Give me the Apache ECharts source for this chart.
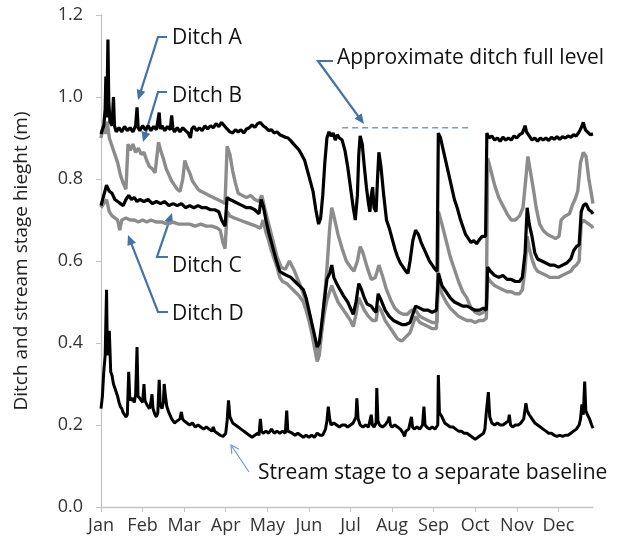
<!DOCTYPE html>
<html>
<head>
<meta charset="utf-8">
<script src="https://cdn.jsdelivr.net/npm/echarts@6/dist/echarts.min.js"></script>
<style>
  html, body { margin: 0; padding: 0; background: #fff; }
  #chart { width: 617px; height: 548px; }
</style>
</head>
<body>
<div id="chart"></div>
<script>
// x = day of year on an even month grid (30 units per month), y = stage (m)
const months = ['Jan', 'Feb', 'Mar', 'Apr', 'May', 'Jun', 'Jul', 'Aug', 'Sep', 'Oct', 'Nov', 'Dec'];
const yTicks = [0, 0.2, 0.4, 0.6, 0.8, 1.0, 1.2];

const ditchA = [
  [0, 0.91], [1, 0.92], [2, 0.93], [3, 0.97], [3.5, 1.05], [4.2, 0.95], [5, 1.14], [5.6, 0.99], [6.5, 0.94],
  [8, 0.93], [9, 1.0], [9.7, 0.93], [11, 0.915], [13, 0.925], [15, 0.915], [17, 0.928], [19, 0.918],
  [21, 0.925], [23, 0.915], [25, 0.93], [26, 0.975], [26.8, 0.925], [28, 0.918], [30, 0.93], [32, 0.92],
  [34, 0.93], [36, 0.918], [38, 0.928], [40, 0.92], [42, 0.962], [42.8, 0.922], [44, 0.93], [46, 0.918],
  [48, 0.928], [50, 0.92], [51, 0.955], [51.8, 0.925], [53, 0.915], [55, 0.925], [57, 0.915], [59, 0.925],
  [61, 0.918], [63, 0.912], [64.5, 0.9], [65.5, 0.922], [67, 0.928], [69, 0.918], [71, 0.925], [73, 0.918],
  [75, 0.93], [77, 0.922], [79, 0.93], [81, 0.925], [83, 0.935], [85, 0.928], [87, 0.938], [89, 0.93],
  [91, 0.922], [93, 0.915], [95, 0.912], [97, 0.92], [99, 0.915], [101, 0.92], [103, 0.912], [105, 0.922],
  [107, 0.925], [109, 0.932], [111, 0.926], [113, 0.935], [115, 0.938], [117, 0.93], [119, 0.925],
  [121, 0.918], [123, 0.92], [125, 0.912], [127, 0.915], [129, 0.908], [131, 0.905], [133, 0.902],
  [135, 0.9], [137, 0.893], [139, 0.885], [141, 0.878], [143, 0.87], [145, 0.858], [147, 0.845],
  [149, 0.82], [151, 0.795], [153, 0.77], [155, 0.725], [157, 0.69], [158.5, 0.705], [160, 0.76],
  [161.5, 0.84], [163, 0.9], [164.5, 0.915], [166, 0.905], [167.5, 0.912], [169, 0.895], [170.5, 0.908],
  [172, 0.9], [174, 0.895], [176, 0.87], [178, 0.83], [180, 0.78], [182, 0.73], [183.5, 0.7],
  [185, 0.76], [186, 0.86], [187, 0.905], [188.5, 0.885], [190, 0.83], [191.5, 0.78], [193, 0.74],
  [194, 0.72], [195, 0.76], [196, 0.78], [197, 0.73], [198.5, 0.72], [199.5, 0.8], [200.5, 0.865],
  [202, 0.83], [204, 0.76], [206, 0.7], [208, 0.68], [210, 0.655], [212, 0.63], [214, 0.61],
  [216, 0.595], [218, 0.585], [220, 0.575], [221.5, 0.57], [223, 0.6], [225, 0.65], [227, 0.675],
  [229, 0.665], [231, 0.645], [233, 0.63], [235, 0.615], [237, 0.6], [239, 0.59], [241, 0.58],
  [242.5, 0.575], [243.4, 0.912], [245, 0.9], [247, 0.87], [249, 0.84], [251, 0.81], [253, 0.78],
  [255, 0.75], [257, 0.73], [259, 0.705], [261, 0.685], [263, 0.665], [265, 0.655], [267, 0.645],
  [269, 0.65], [271, 0.642], [273, 0.652], [275, 0.66], [277.5, 0.66], [278.4, 0.912], [280, 0.9],
  [282, 0.905], [284, 0.895], [286, 0.9], [288, 0.892], [290, 0.902], [292, 0.895], [294, 0.9],
  [296, 0.895], [298, 0.905], [300, 0.9], [302, 0.908], [304, 0.912], [306, 0.93], [307, 0.915],
  [309, 0.905], [311, 0.895], [313, 0.9], [315, 0.892], [317, 0.9], [319, 0.895], [321, 0.9],
  [323, 0.894], [325, 0.902], [327, 0.897], [329, 0.903], [331, 0.897], [333, 0.903], [335, 0.9],
  [337, 0.905], [339, 0.902], [341, 0.908], [343, 0.905], [345, 0.915], [346.5, 0.925], [348, 0.938],
  [349.5, 0.92], [351, 0.915], [353, 0.908], [355, 0.91]
];

const ditchB = [
  [0, 0.9], [1.5, 0.93], [3, 0.91], [4.5, 0.94], [6, 0.9], [8, 0.88], [10, 0.86], [12, 0.84],
  [14, 0.81], [16, 0.79], [18, 0.775], [19.5, 0.885], [21, 0.87], [23, 0.885], [25, 0.865],
  [27, 0.875], [29, 0.86], [31, 0.865], [33, 0.845], [35, 0.83], [37, 0.825], [39, 0.815],
  [41.5, 0.89], [43, 0.87], [45, 0.85], [47, 0.825], [49, 0.81], [51, 0.795], [53, 0.785],
  [55, 0.775], [57, 0.77], [59, 0.8], [60.5, 0.845], [62, 0.83], [64, 0.815], [66, 0.795],
  [68, 0.785], [70, 0.775], [72, 0.77], [75, 0.765], [78, 0.76], [81, 0.755], [84, 0.75],
  [87, 0.745], [89.5, 0.74], [91, 0.88], [93, 0.86], [95, 0.82], [97, 0.79], [99, 0.765],
  [102, 0.76], [105, 0.755], [108, 0.76], [111, 0.75], [114, 0.745], [116, 0.76], [118, 0.73],
  [121, 0.69], [124, 0.65], [127, 0.61], [130, 0.585], [133, 0.58], [136, 0.6], [139, 0.58],
  [142, 0.555], [145, 0.53], [148, 0.5], [151, 0.46], [154, 0.41], [156.5, 0.36], [158.5, 0.41],
  [161, 0.5], [163, 0.58], [165, 0.68], [166.5, 0.73], [168, 0.71], [171, 0.665], [174, 0.63],
  [177, 0.6], [180, 0.585], [182.5, 0.575], [185, 0.6], [187, 0.635], [189, 0.62], [192, 0.585],
  [195, 0.555], [198, 0.56], [200.5, 0.59], [203, 0.565], [206, 0.53], [209, 0.505], [212, 0.485],
  [215, 0.475], [218, 0.47], [221, 0.47], [224, 0.48], [227, 0.48], [230, 0.465], [233, 0.46],
  [236, 0.455], [239, 0.45], [242.5, 0.45], [243.5, 0.72], [246, 0.69], [249, 0.65], [252, 0.61],
  [255, 0.58], [258, 0.55], [261, 0.525], [264, 0.51], [267, 0.485], [270, 0.475], [273, 0.47],
  [276, 0.475], [278, 0.48], [279, 0.85], [281, 0.825], [284, 0.785], [287, 0.755], [290, 0.735],
  [293, 0.715], [296, 0.7], [299, 0.7], [302, 0.71], [304.5, 0.73], [306.5, 0.8], [308, 0.855],
  [310, 0.815], [312, 0.775], [314, 0.73], [316.5, 0.69], [319, 0.675], [322, 0.665], [325, 0.66],
  [328, 0.655], [330.5, 0.66], [332, 0.7], [335, 0.71], [338, 0.715], [340, 0.735], [342, 0.75],
  [344, 0.77], [346, 0.84], [348, 0.865], [350, 0.855], [352, 0.8], [354, 0.76], [355, 0.74]
];

const ditchC = [
  [0, 0.735], [2, 0.76], [4, 0.785], [6, 0.77], [8, 0.765], [10, 0.75], [12, 0.745], [14, 0.74],
  [16, 0.735], [18, 0.75], [20, 0.76], [22, 0.75], [24, 0.755], [26, 0.745], [28, 0.75], [31, 0.745],
  [34, 0.75], [37, 0.74], [40, 0.745], [43, 0.74], [46, 0.745], [49, 0.735], [52, 0.74], [55, 0.735],
  [58, 0.74], [61, 0.73], [64, 0.735], [67, 0.73], [70, 0.735], [73, 0.73], [76, 0.73], [79, 0.725],
  [82, 0.725], [85, 0.72], [87, 0.7], [89.5, 0.685], [91, 0.755], [93, 0.75], [96, 0.745], [99, 0.74],
  [102, 0.735], [105, 0.73], [108, 0.73], [111, 0.725], [114, 0.715], [115.5, 0.75], [117, 0.735],
  [119, 0.7], [121, 0.67], [123, 0.645], [125, 0.62], [127, 0.595], [129, 0.575], [131, 0.57],
  [134, 0.565], [137, 0.56], [140, 0.55], [143, 0.54], [146, 0.53], [148, 0.51], [150, 0.48],
  [152, 0.45], [154, 0.42], [156, 0.39], [157.5, 0.4], [159, 0.44], [161, 0.5], [163, 0.555],
  [165, 0.57], [166.5, 0.59], [168, 0.56], [170, 0.545], [172.5, 0.53], [175, 0.515], [178, 0.5],
  [180, 0.485], [182, 0.47], [184, 0.5], [186, 0.545], [188, 0.53], [190, 0.51], [192, 0.495],
  [195, 0.49], [197, 0.48], [198.5, 0.475], [200, 0.52], [202, 0.505], [205, 0.48], [208, 0.465],
  [211, 0.455], [214, 0.45], [217, 0.445], [220, 0.445], [223, 0.45], [225, 0.47], [227, 0.49],
  [230, 0.485], [233, 0.48], [236, 0.48], [239, 0.475], [242, 0.48], [243.5, 0.57], [246, 0.54],
  [249, 0.525], [252, 0.51], [255, 0.5], [258, 0.495], [261, 0.49], [264, 0.49], [267, 0.485],
  [270, 0.48], [273, 0.48], [276, 0.485], [278, 0.48], [279, 0.585], [281, 0.575], [284, 0.565],
  [287, 0.56], [290, 0.565], [293, 0.555], [296, 0.555], [299, 0.55], [302, 0.55], [304, 0.56],
  [306, 0.62], [307.5, 0.73], [309, 0.69], [311, 0.66], [313, 0.62], [315, 0.605], [318, 0.6],
  [321, 0.595], [324, 0.59], [327, 0.59], [330, 0.585], [333, 0.59], [336, 0.595], [339, 0.605],
  [341, 0.625], [343, 0.635], [345, 0.64], [346.5, 0.72], [348, 0.735], [350, 0.74], [352, 0.725],
  [354, 0.72], [355, 0.715]
];

const ditchD = [
  [0, 0.73], [2, 0.74], [4, 0.75], [6, 0.72], [8, 0.71], [10, 0.705], [12, 0.7], [13.5, 0.675],
  [15, 0.7], [18, 0.705], [21, 0.7], [24, 0.7], [27, 0.695], [30, 0.7], [33, 0.695], [36, 0.7],
  [40, 0.695], [44, 0.695], [48, 0.69], [52, 0.695], [56, 0.69], [60, 0.69], [64, 0.69], [68, 0.685],
  [72, 0.69], [76, 0.685], [80, 0.685], [84, 0.68], [86, 0.675], [88, 0.645], [89.5, 0.63], [91, 0.72],
  [93, 0.71], [96, 0.705], [100, 0.7], [104, 0.695], [108, 0.69], [112, 0.685], [115, 0.68], [117, 0.7],
  [119, 0.67], [121, 0.65], [123, 0.625], [125, 0.605], [127, 0.585], [129, 0.56], [131, 0.55],
  [134, 0.545], [137, 0.535], [140, 0.525], [143, 0.515], [146, 0.5], [148, 0.48], [150, 0.455],
  [152, 0.425], [154, 0.39], [156, 0.355], [157.5, 0.37], [159, 0.42], [161, 0.47], [163, 0.505],
  [165, 0.525], [166.5, 0.54], [168, 0.525], [171, 0.5], [174, 0.485], [177, 0.47], [180, 0.455],
  [182, 0.44], [184, 0.47], [186, 0.51], [188, 0.495], [190, 0.48], [193, 0.465], [196, 0.455],
  [198.5, 0.455], [200, 0.49], [202, 0.48], [205, 0.455], [208, 0.44], [211, 0.425], [214, 0.41],
  [217, 0.405], [220, 0.415], [223, 0.425], [225, 0.445], [227, 0.465], [230, 0.45], [233, 0.445],
  [236, 0.44], [239, 0.435], [242, 0.435], [243.5, 0.55], [246, 0.52], [249, 0.5], [252, 0.485],
  [255, 0.475], [258, 0.465], [261, 0.46], [264, 0.455], [267, 0.455], [270, 0.45], [273, 0.455],
  [276, 0.455], [278, 0.46], [279, 0.56], [281, 0.55], [284, 0.54], [287, 0.535], [290, 0.53],
  [293, 0.525], [296, 0.525], [299, 0.52], [302, 0.52], [304, 0.53], [306, 0.58], [307.5, 0.66],
  [309, 0.63], [311, 0.605], [313, 0.585], [315, 0.575], [318, 0.57], [321, 0.565], [324, 0.56],
  [327, 0.56], [330, 0.56], [333, 0.565], [336, 0.57], [339, 0.575], [341, 0.585], [343, 0.59],
  [345, 0.6], [346.5, 0.69], [348, 0.7], [350, 0.695], [352, 0.69], [354, 0.685], [355, 0.68]
];

const stream = [
  [0, 0.24], [1, 0.27], [2, 0.33], [3, 0.37], [3.5, 0.45], [4, 0.53], [4.5, 0.4], [5, 0.37], [6, 0.43],
  [6.5, 0.38], [7, 0.33], [8, 0.32], [9, 0.3], [10, 0.29], [11, 0.28], [12, 0.27], [13, 0.255],
  [14, 0.245], [15, 0.24], [16, 0.23], [17, 0.225], [18, 0.22], [19, 0.225], [20, 0.33], [20.7, 0.27],
  [21.5, 0.26], [23, 0.265], [24, 0.255], [25, 0.275], [26, 0.39], [26.7, 0.27], [28, 0.265],
  [29, 0.26], [30, 0.255], [31, 0.3], [31.7, 0.26], [33, 0.25], [34, 0.245], [35, 0.24], [36, 0.255],
  [36.8, 0.275], [37.5, 0.24], [39, 0.225], [40, 0.22], [41, 0.23], [42, 0.31], [42.7, 0.25],
  [44, 0.24], [45, 0.255], [45.6, 0.3], [46.5, 0.27], [47.5, 0.245], [49, 0.23], [51, 0.215],
  [53, 0.205], [55, 0.21], [57, 0.215], [58, 0.232], [58.8, 0.215], [60, 0.21], [62, 0.205], [64, 0.2],
  [66, 0.205], [68, 0.195], [70, 0.2], [72, 0.195], [74, 0.19], [76, 0.195], [78, 0.19], [80, 0.185],
  [81, 0.195], [82, 0.185], [84, 0.18], [86, 0.175], [88, 0.172], [90, 0.18], [91, 0.21], [92, 0.26],
  [93, 0.22], [95, 0.205], [97, 0.2], [99, 0.195], [101, 0.19], [103, 0.185], [105, 0.18], [107, 0.175],
  [109, 0.17], [111, 0.175], [113, 0.18], [114, 0.175], [115, 0.215], [115.8, 0.185], [117, 0.18],
  [119, 0.185], [121, 0.18], [123, 0.19], [125, 0.18], [127, 0.185], [129, 0.18], [131, 0.185],
  [133, 0.18], [134, 0.235], [134.8, 0.185], [136, 0.185], [138, 0.18], [140, 0.175], [142, 0.18],
  [144, 0.175], [146, 0.17], [148, 0.175], [150, 0.17], [152, 0.175], [154, 0.17], [156, 0.18],
  [158, 0.175], [160, 0.175], [162, 0.19], [163, 0.21], [164, 0.245], [165, 0.215], [166, 0.2],
  [168, 0.205], [170, 0.2], [172, 0.195], [174, 0.2], [176, 0.2], [178, 0.195], [180, 0.2], [182, 0.205],
  [184, 0.22], [184.6, 0.265], [185.5, 0.215], [187, 0.2], [189, 0.195], [191, 0.2], [193, 0.195],
  [195, 0.225], [195.8, 0.2], [197, 0.195], [198.5, 0.205], [199, 0.29], [199.8, 0.21], [201, 0.2],
  [203, 0.195], [205, 0.2], [207, 0.21], [208, 0.22], [208.8, 0.2], [210, 0.195], [212, 0.2],
  [214, 0.195], [216, 0.19], [218, 0.18], [219, 0.172], [220, 0.185], [222, 0.19], [224, 0.22],
  [224.8, 0.195], [226, 0.19], [228, 0.195], [230, 0.19], [232, 0.2], [233, 0.245], [233.8, 0.2],
  [235, 0.195], [237, 0.19], [239, 0.195], [241, 0.19], [243, 0.2], [243.4, 0.322], [244.2, 0.23],
  [246, 0.22], [248, 0.205], [250, 0.2], [252, 0.195], [254, 0.195], [256, 0.19], [258, 0.185],
  [260, 0.185], [262, 0.18], [264, 0.18], [266, 0.175], [268, 0.17], [270, 0.165], [272, 0.17],
  [274, 0.175], [276, 0.18], [277, 0.19], [278, 0.23], [279.5, 0.28], [280.5, 0.22], [282, 0.205],
  [284, 0.2], [286, 0.205], [288, 0.2], [290, 0.2], [292, 0.205], [294, 0.21], [294.6, 0.225],
  [295.5, 0.2], [297, 0.195], [299, 0.2], [301, 0.2], [303, 0.205], [305, 0.215], [306.6, 0.253],
  [307.5, 0.235], [309, 0.225], [311, 0.215], [313, 0.205], [315, 0.2], [317, 0.195], [319, 0.19],
  [321, 0.185], [323, 0.18], [325, 0.18], [327, 0.175], [329, 0.172], [331, 0.175], [333, 0.172],
  [335, 0.175], [337, 0.175], [339, 0.18], [341, 0.185], [343, 0.19], [345, 0.2], [346, 0.215],
  [347, 0.25], [348, 0.225], [349, 0.306], [349.8, 0.235], [351, 0.225], [352.5, 0.215], [354, 0.2],
  [355, 0.192]
];

const fullLevel = [[174, 0.925], [267, 0.925]];

const FONT = '"Open Sans", sans-serif';
const ARROW_BLUE = '#4272a8';
const LIGHT_BLUE = '#6a9fd8';

// polyline + arrow head at the last point
function arrow(pts, color, width, head, open) {
  const n = pts.length;
  const [x1, y1] = pts[n - 2];
  const [x2, y2] = pts[n - 1];
  const a = Math.atan2(y2 - y1, x2 - x1);
  const spread = open ? 0.5 : 0.42;
  const p1 = [x2 - head * Math.cos(a - spread), y2 - head * Math.sin(a - spread)];
  const p2 = [x2 - head * Math.cos(a + spread), y2 - head * Math.sin(a + spread)];
  const els = [];
  const linePts = pts.slice();
  if (!open) {
    linePts[n - 1] = [x2 - head * 0.7 * Math.cos(a), y2 - head * 0.7 * Math.sin(a)];
  }
  els.push({ type: 'polyline', shape: { points: linePts }, style: { stroke: color, lineWidth: width, fill: null } });
  if (open) {
    els.push({ type: 'polyline', shape: { points: [p1, [x2, y2], p2] }, style: { stroke: color, lineWidth: width, fill: null } });
  } else {
    els.push({ type: 'polygon', shape: { points: [p1, [x2, y2], p2] }, style: { fill: color } });
  }
  return els;
}

function label(text, x, y) {
  return { type: 'text', x: x, y: y, style: { text: text, fill: '#111', font: '21px ' + FONT, textVerticalAlign: 'middle' } };
}

const chart = echarts.init(document.getElementById('chart'));

const lineSeries = (name, data, color, width, z) => ({
  name: name, type: 'line', data: data, showSymbol: false, symbol: 'none', z: z,
  lineStyle: { color: color, width: width }, animation: false
});

const option = {
  animation: false,
  grid: { left: 101, right: 24, top: 15, bottom: 41 },
  xAxis: {
    type: 'value', min: 0, max: 355, interval: 30,
    axisLine: { lineStyle: { color: '#c4c4c4', width: 1.3 } },
    axisTick: { show: true, length: 5, lineStyle: { color: '#c4c4c4' } },
    splitLine: { show: false },
    axisLabel: {
      color: '#333', fontFamily: FONT, fontSize: 18, margin: 10, showMaxLabel: false,
      formatter: v => (v % 30 === 0 ? months[v / 30] : '')
    }
  },
  yAxis: {
    type: 'value', min: 0, max: 1.2, interval: 0.2,
    name: 'Ditch and stream stage hieght (m)', nameLocation: 'middle', nameGap: 70,
    nameTextStyle: { color: '#222', fontFamily: FONT, fontSize: 19 },
    axisLine: { show: true, lineStyle: { color: '#c4c4c4', width: 1.3 } },
    axisTick: { show: true, length: 5, lineStyle: { color: '#c4c4c4' } },
    splitLine: { show: false },
    axisLabel: {
      color: '#333', fontFamily: FONT, fontSize: 18, margin: 18,
      formatter: v => (yTicks.some(t => Math.abs(t - v) < 1e-6) ? v.toFixed(1) : '')
    }
  },
  series: [
    lineSeries('Ditch D', ditchD, '#8c8c8c', 3.4, 2),
    lineSeries('Ditch B', ditchB, '#8c8c8c', 3.4, 3),
    lineSeries('Ditch C', ditchC, '#000', 3.2, 4),
    lineSeries('Ditch A', ditchA, '#000', 3.2, 5),
    lineSeries('Stream stage', stream, '#000', 3, 6),
    {
      name: 'Approximate ditch full level', type: 'line', data: fullLevel, showSymbol: false, symbol: 'none', z: 7,
      lineStyle: { color: LIGHT_BLUE, width: 1.5, type: [6, 4] }
    }
  ],
  graphic: [].concat(
    arrow([[167, 37], [158, 37], [138, 100]], ARROW_BLUE, 2.2, 11, false),
    arrow([[167, 92], [158, 92], [143, 142]], ARROW_BLUE, 2.2, 11, false),
    arrow([[168, 257], [157, 257], [172, 213]], ARROW_BLUE, 2.2, 11, false),
    arrow([[168, 312], [158, 312], [128, 235]], ARROW_BLUE, 2.2, 11, false),
    arrow([[333, 61], [318, 61], [364, 124]], ARROW_BLUE, 2.2, 11, false),
    arrow([[249, 472], [231, 445]], LIGHT_BLUE, 1.2, 9, true),
    [
      label('Ditch A', 172, 38),
      label('Ditch B', 172, 96),
      label('Ditch C', 172, 266),
      label('Ditch D', 172, 314),
      label('Approximate ditch full level', 337, 58),
      label('Stream stage to a separate baseline', 258, 473)
    ]
  )
};

chart.setOption(option);
</script>
</body>
</html>
